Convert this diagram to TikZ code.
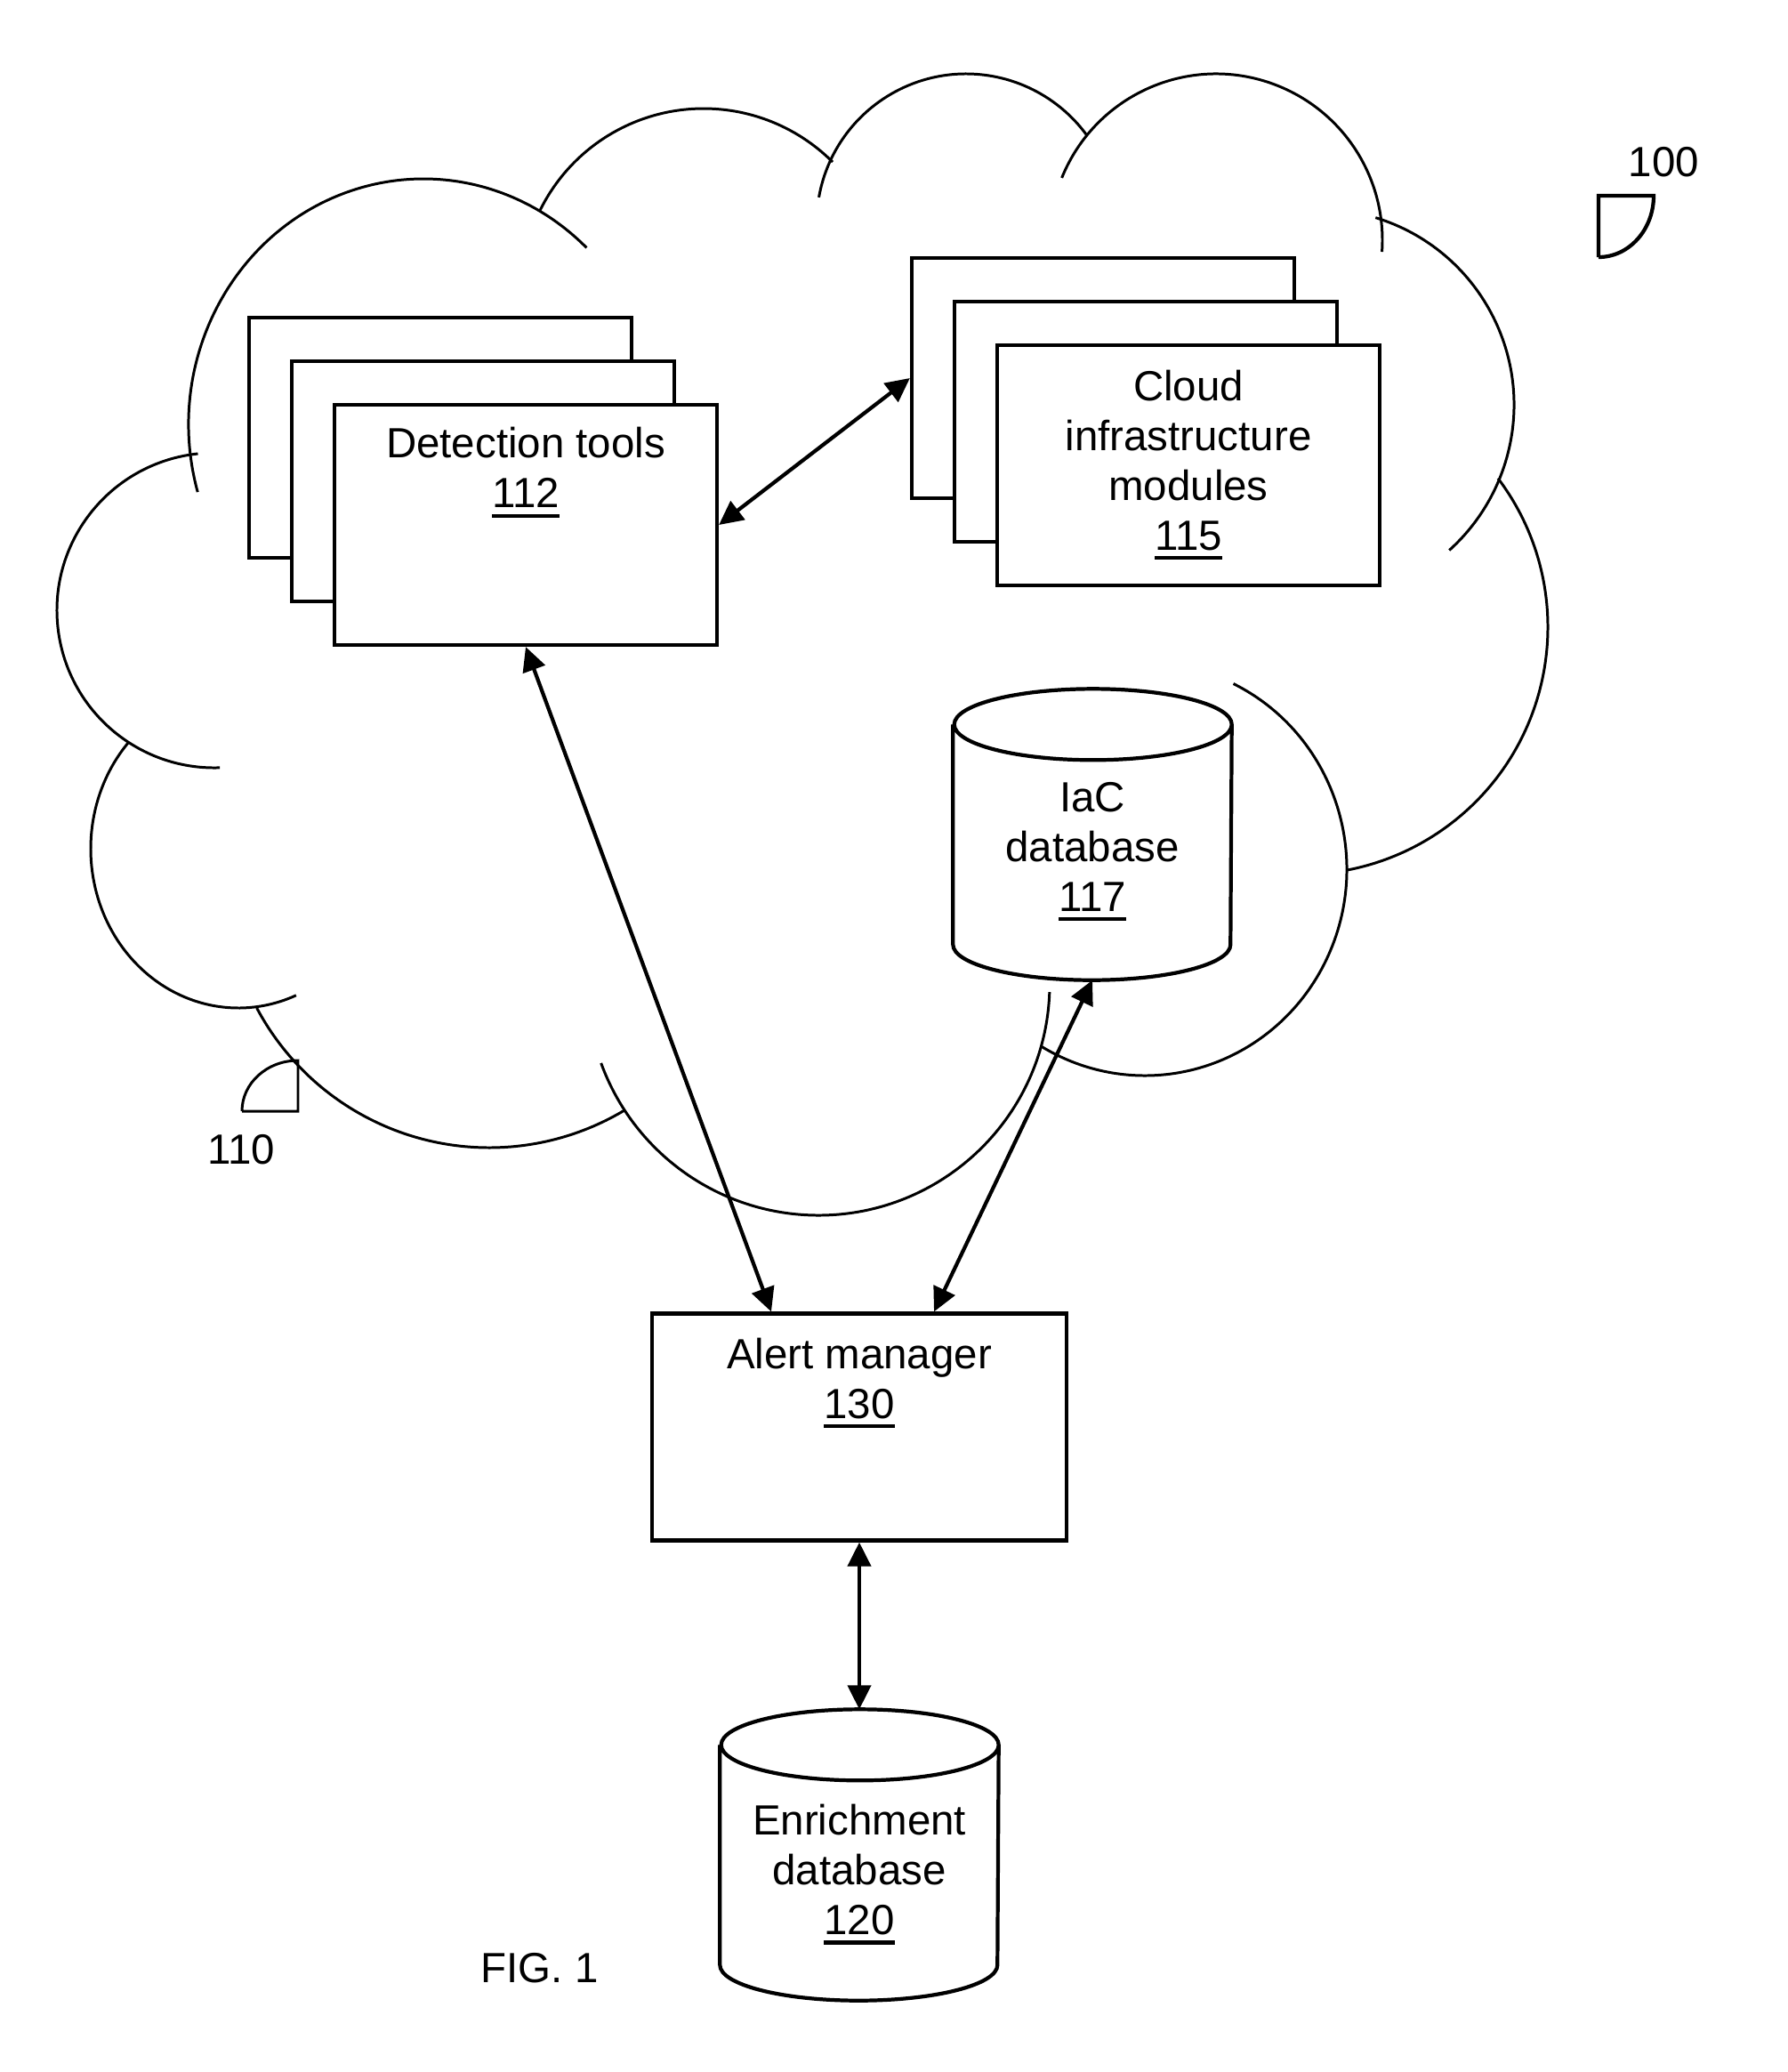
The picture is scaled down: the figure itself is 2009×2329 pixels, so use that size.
\documentclass[tikz,border=0pt]{standalone}
\usepackage{fontspec}
\setmainfont{Liberation Sans}
\usetikzlibrary{
    arrows.meta,
    positioning
}
\newcommand{\refno}[1]{\setbox0\hbox{#1}\leavevmode\rlap{\rule[-3.1pt]{\wd0}{1.2pt}}\box0}
\tikzset{
    % Lines
    box line/.style={line width=1.2pt},
    cloud line/.style={line width=0.85pt},
    %
    % Arrows
    arrow tip/.tip={Triangle[length=0.27cm,width=0.26cm]},
    arr/.style={box line,<->,>={arrow tip}},
    %
    % Nodes
    block/.style={box line,draw,fill=white,minimum width=4.3cm,minimum height=2.7cm,inner sep=0pt,align=center},
    database/.style={minimum width=3.12cm,minimum height=3.26cm,inner sep=0pt},
    caption/.style={inner sep=0pt,align=center},
    refnum/.style={inner sep=0pt,anchor=base west}
}
\tikzstyle{every node}=[font=\fontsize{13.5}{15.9}\selectfont]

\begin{document}
\begin{tikzpicture}[x=0.1mm,y=-0.1mm]
    \useasboundingbox (0,0) rectangle (2009,2329);
    % Cloud 110
    \foreach \cx/\cy/\rx/\ry/\a/\b in {476/477/264/276/-196/-46, 791/327/205/205/-154/-45,
            1086/251/168/168/-170/-36, 1367/270/187/187/-158/4, 1482/455/220/220/-73/48,
            1462/705/278/278/-37/79, 1287/977/227/232/-64/121, 920/1106/260/260/2/160,
            550/994/296/296/59/152, 268/954/166/179/-138/-293, 241/686/177/177/-96/-272}
        \draw[cloud line] ([shift={(\a:{\rx} and {\ry})}]\cx,\cy) arc[start angle=\a,end angle=\b,x radius=\rx,y radius=\ry];
    \draw[cloud line] (272,1249) -- (335,1249) -- (335,1192) arc[start angle=-90,end angle=-180,x radius=63,y radius=57];
    \node[refnum] (lbl110) at (233,1308) {110};
    % System 100
    \draw[box line] (1797,289) -- (1797,220) -- (1859,220) arc[start angle=0,end angle=90,x radius=62,y radius=69];
    \node[refnum] (lbl100) at (1830,198) {100};
    % Detection tools
    \node[block] (dtback) at (495,492) {};
    \node[block] (dtmid) at ([shift={(48,49)}]dtback) {};
    \node[block] (dt) at ([shift={(48,49)}]dtmid) {};
    \node[caption,below=0.27cm of dt.north] (dttext) {Detection tools\\\refno{112}};
    % Cloud infrastructure modules
    \node[block] (cimback) at (1240,425) {};
    \node[block] (cimmid) at ([shift={(48,49)}]cimback) {};
    \node[block] (cim) at ([shift={(48,49)}]cimmid) {Cloud\\infrastructure\\modules\\\refno{115}};
    % Databases
    \node[database] (iac) at (1228,938) {};
    \node[caption] (iactext) at ([yshift=-0.19cm]iac.center) {IaC\\database\\\refno{117}};
    \node[database] (enrich) at (966,2085) {};
    \node[caption] (enrichtext) at ([yshift=-0.22cm]enrich.center) {Enrichment\\database\\\refno{120}};
    \foreach \db in {iac,enrich}
        \draw[box line] ([yshift=-0.4cm]\db.north west) -- ([yshift=0.4cm]\db.south west)
            arc[start angle=180,end angle=360,x radius=1.56cm,y radius=0.4cm]
            -- ([yshift=-0.4cm]\db.north east)
            arc[start angle=0,end angle=360,x radius=1.56cm,y radius=0.4cm];
    % Alert manager
    \node[block,minimum width=4.66cm,minimum height=2.55cm] (alert) at (966,1604) {};
    \node[caption,below=0.29cm of alert.north] (alerttext) {Alert manager\\\refno{130}};
    % Connections
    \draw[arr] (dt.east) -- (cimback.west);
    \draw[arr] (dt.south) -- ([xshift=-0.99cm]alert.north);
    \draw[arr] (iac.south) -- ([xshift=0.84cm]alert.north);
    \draw[arr] (alert.south) -- (enrich.north);
    \node[refnum] (fig) at (540,2228) {FIG. 1};
\end{tikzpicture}
\end{document}
